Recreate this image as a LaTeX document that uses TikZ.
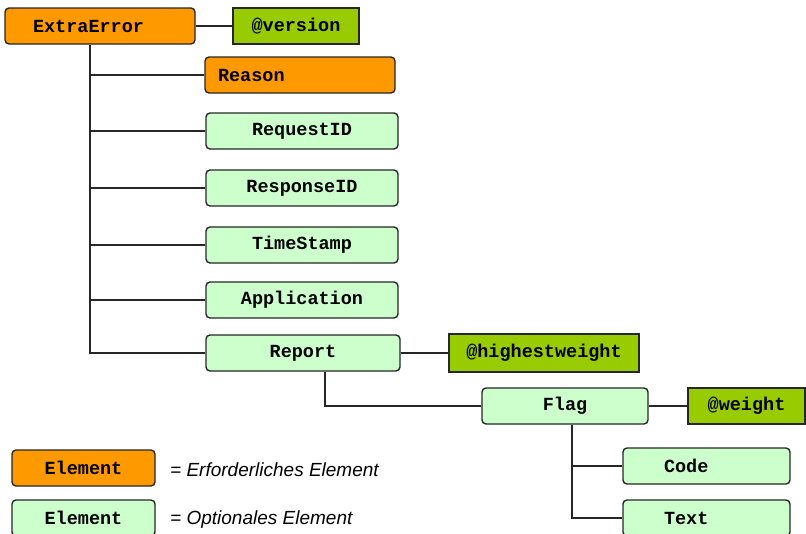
\documentclass[tikz,border=0pt]{standalone}
\usepackage{fontspec}
\setmainfont{Liberation Sans}
\newfontfamily\boxfont{Liberation Mono}
\definecolor{reqor}{HTML}{FF9900}
\definecolor{optgr}{HTML}{CCFFCC}
\definecolor{attgr}{HTML}{99CC00}
\begin{document}
\begin{tikzpicture}[x=1pt,y=-1pt,
  base/.style={draw=black!85, line width=1.4pt, inner sep=0pt, minimum height=36pt,
    font=\boxfont\bfseries\fontsize{18.5}{20}\selectfont},
  reqbox/.style={base, fill=reqor, rounded corners=4pt},
  optbox/.style={base, fill=optgr, rounded corners=4pt},
  attbox/.style={base, fill=attgr},
  lefttext/.style 2 args={text width=#1pt, inner xsep=#2pt, align=left},
  conn/.style={line width=2pt, draw=black!85},
  legtext/.style={anchor=west, inner sep=0pt, font=\itshape\fontsize{19}{21}\selectfont}
]
\useasboundingbox (0,0) rectangle (806,533);
% nodes
\node[reqbox, lefttext={134}{28}] (ee) at (100,26) {ExtraError};
\node[attbox, minimum width=126pt] (ver) at (296,26) {@version};
\node[reqbox, lefttext={164}{13}] (rs) at (300,75) {Reason};
\node[optbox, minimum width=192pt] (rq) at (302,131) {RequestID};
\node[optbox, minimum width=192pt] (rp) at (302,188) {ResponseID};
\node[optbox, minimum width=192pt] (ts) at (302,245) {TimeStamp};
\node[optbox, minimum width=192pt] (ap) at (302,300) {Application};
\node[optbox, minimum width=194pt] (rep) at (303,353) {Report};
\node[attbox, minimum width=190pt, minimum height=38pt] (hw) at (544,353) {@highestweight};
\node[optbox, minimum width=166pt] (flag) at (565,406) {Flag};
\node[attbox, minimum width=117pt] (wt) at (746.5,406) {@weight};
\node[optbox, lefttext={85}{41}] (code) at (706.5,466) {Code};
\node[optbox, lefttext={85}{41}] (txt) at (706.5,518) {Text};
% legend
\node[reqbox, minimum width=143pt] (lreq) at (83.5,468) {Element};
\node[optbox, minimum width=143pt] (lopt) at (83.5,518) {Element};
\node[legtext] (lreqt) at (170,470) {= Erforderliches Element};
\node[legtext] (loptt) at (170,520) {= Optionales Element};
% connectors
\coordinate (trunk) at (90,0);
\coordinate (rdrop) at (325,0);
\coordinate (fdrop) at (572,0);
\draw[conn] (ee.east) -- (ver.west);
\draw[conn] (ee.south -| trunk) |- (rep.west);
\foreach \n in {rs,rq,rp,ts,ap} \draw[conn] (trunk |- \n.west) -- (\n.west);
\draw[conn] (rep.east) -- (hw.west);
\draw[conn] (rep.south -| rdrop) |- (flag.west);
\draw[conn] (flag.east) -- (wt.west);
\draw[conn] (flag.south -| fdrop) |- (txt.west);
\draw[conn] (fdrop |- code.west) -- (code.west);
\end{tikzpicture}
\end{document}
